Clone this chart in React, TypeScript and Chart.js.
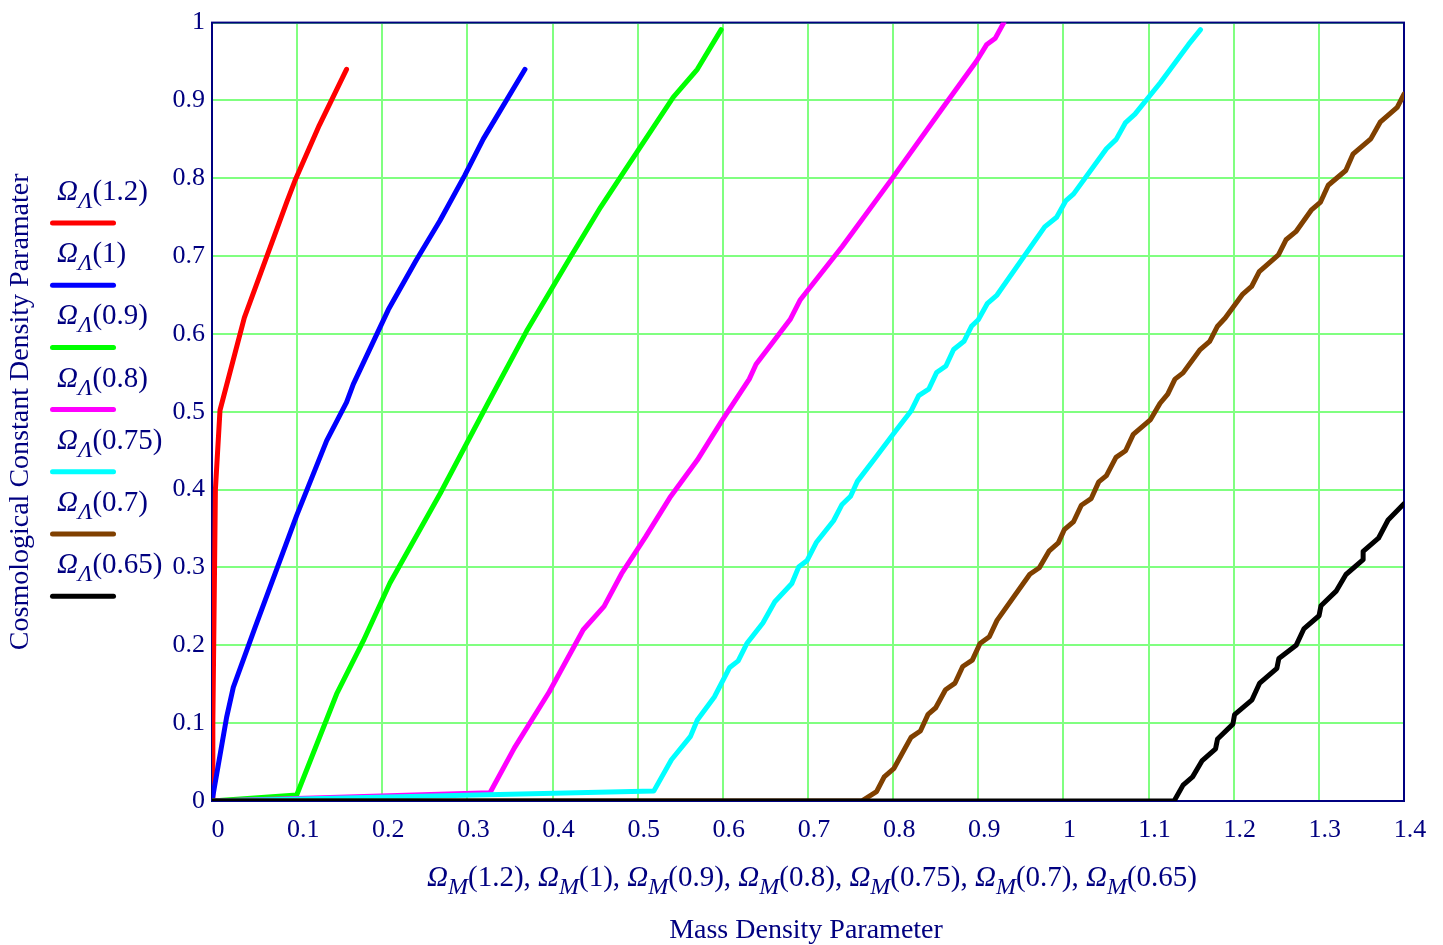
import React, { useEffect, useRef } from "react";
import { Chart, registerables } from "chart.js";

Chart.register(...registerables);

// Hubble-parameter labels of each curve
const seriesLabels = ["1.2", "1", "0.9", "0.8", "0.75", "0.7", "0.65"];
const seriesColors = ["#ff0000", "#0000ff", "#00ff00", "#ff00ff", "#00ffff", "#804000", "#000000"];

// Ω_M (x) and Ω_Λ (y) for each curve
const omegaM_12 = [0, 0.001, 0.002, 0.004, 0.0094, 0.038, 0.088, 0.0975, 0.126, 0.158];
const omegaL_12 = [0, 0.1, 0.2, 0.4, 0.502, 0.621, 0.77, 0.797, 0.868, 0.94];

const omegaM_10 = [0, 0.0172, 0.025, 0.0505, 0.0995, 0.1347, 0.158, 0.166, 0.207, 0.24, 0.268, 0.297, 0.3187, 0.3676];
const omegaL_10 = [0, 0.1077, 0.146, 0.2226, 0.367, 0.463, 0.512, 0.5355, 0.631, 0.695, 0.746, 0.804, 0.8506, 0.94];

const omegaM_09 = [0, 0.0995, 0.1464, 0.1777, 0.209, 0.268, 0.3245, 0.3695, 0.42, 0.4565, 0.4849, 0.5416, 0.57, 0.598];
const omegaL_09 = [0, 0.0077, 0.1375, 0.2056, 0.28, 0.395, 0.512, 0.6037, 0.697, 0.763, 0.81, 0.904, 0.94, 0.991];

const omegaM_08 = [0, 0.3265, 0.355, 0.396, 0.436, 0.4605, 0.481, 0.509, 0.5376, 0.57, 0.598, 0.631, 0.639, 0.679, 0.691, 0.74, 0.797, 0.853, 0.898, 0.91, 0.92, 0.93];
const omegaL_08 = [0, 0.0106, 0.068, 0.14, 0.22, 0.25, 0.292, 0.339, 0.3895, 0.438, 0.487, 0.542, 0.561, 0.6185, 0.644, 0.712, 0.797, 0.8825, 0.9506, 0.972, 0.98, 1.0];

const omegaM_075 = [0, 0.519, 0.5396, 0.562, 0.57, 0.59, 0.608, 0.618, 0.6286, 0.647, 0.661, 0.681, 0.689, 0.699, 0.7097, 0.73, 0.74, 0.75, 0.758, 0.7785, 0.8033, 0.821, 0.83, 0.8418, 0.851, 0.862, 0.871, 0.8832, 0.892, 0.9, 0.9108, 0.922, 0.978, 0.992, 1.003, 1.012, 1.0505, 1.062, 1.073, 1.084, 1.114, 1.147, 1.161];
const omegaL_075 = [0, 0.013, 0.053, 0.083, 0.104, 0.1336, 0.1716, 0.18, 0.203, 0.2287, 0.256, 0.2795, 0.3005, 0.309, 0.332, 0.36, 0.381, 0.3916, 0.4106, 0.44, 0.476, 0.501, 0.5207, 0.529, 0.5504, 0.5589, 0.58, 0.5906, 0.6098, 0.6183, 0.6394, 0.65, 0.7375, 0.75, 0.7714, 0.78, 0.838, 0.85, 0.8716, 0.8825, 0.923, 0.972, 0.991];

const omegaM_07 = [0, 0.763, 0.7805, 0.7895, 0.8007, 0.821, 0.832, 0.841, 0.85, 0.8615, 0.8727, 0.8817, 0.893, 0.902, 0.913, 0.922, 0.9605, 0.9717, 0.983, 0.994, 1.001, 1.012, 1.021, 1.0325, 1.0415, 1.0505, 1.0617, 1.073, 1.082, 1.1023, 1.1135, 1.1225, 1.131, 1.1405, 1.1606, 1.1718, 1.181, 1.19, 1.21, 1.221, 1.23, 1.2525, 1.2614, 1.273, 1.291, 1.302, 1.311, 1.3316, 1.34, 1.361, 1.372, 1.392, 1.4];
const omegaL_07 = [0, 0, 0.012, 0.031, 0.0415, 0.0817, 0.09, 0.1113, 0.1198, 0.143, 0.1515, 0.1728, 0.181, 0.2023, 0.211, 0.232, 0.2913, 0.2997, 0.321, 0.3316, 0.3485, 0.359, 0.38, 0.3884, 0.41, 0.418, 0.4415, 0.45, 0.471, 0.49, 0.511, 0.5227, 0.542, 0.55, 0.58, 0.5906, 0.61, 0.6205, 0.6504, 0.661, 0.68, 0.7016, 0.721, 0.7314, 0.759, 0.7695, 0.791, 0.81, 0.831, 0.8506, 0.872, 0.891, 0.908];

const omegaM_065 = [0, 1.13, 1.1405, 1.1517, 1.163, 1.1787, 1.181, 1.199, 1.201, 1.2215, 1.2305, 1.2507, 1.253, 1.2733, 1.2823, 1.3002, 1.3025, 1.3206, 1.3318, 1.352, 1.352, 1.37, 1.3813, 1.4];
const omegaL_065 = [0, 0, 0.0204, 0.031, 0.052, 0.067, 0.0797, 0.0987, 0.111, 0.13, 0.1515, 0.1705, 0.1831, 0.2, 0.221, 0.238, 0.2508, 0.27, 0.291, 0.31, 0.3207, 0.3376, 0.361, 0.382];

const seriesX = [omegaM_12, omegaM_10, omegaM_09, omegaM_08, omegaM_075, omegaM_07, omegaM_065];
const seriesY = [omegaL_12, omegaL_10, omegaL_09, omegaL_08, omegaL_075, omegaL_07, omegaL_065];

const yTitle = "Cosmological Constant Density Paramater";
const xTitle = "Mass Density Parameter";

const NAVY = "#000080";
const SERIF = "'Liberation Serif', 'Times New Roman', serif";
const F = 29;
const S = 24;
const T = 28;

function termWidth(ctx: CanvasRenderingContext2D, sub: string, val: string) {
  ctx.font = `italic ${F}px ${SERIF}`;
  let w = ctx.measureText("\u03A9").width;
  ctx.font = `italic ${S}px ${SERIF}`;
  w += ctx.measureText(sub).width;
  ctx.font = `${F}px ${SERIF}`;
  w += ctx.measureText(`(${val})`).width;
  return w;
}

function drawTerm(ctx: CanvasRenderingContext2D, x: number, base: number, sub: string, val: string) {
  ctx.font = `italic ${F}px ${SERIF}`;
  ctx.fillText("\u03A9", x, base);
  x += ctx.measureText("\u03A9").width;
  ctx.font = `italic ${S}px ${SERIF}`;
  ctx.fillText(sub, x, base + 8);
  x += ctx.measureText(sub).width;
  ctx.font = `${F}px ${SERIF}`;
  ctx.fillText(`(${val})`, x, base);
  x += ctx.measureText(`(${val})`).width;
  return x;
}

const decor = {
  id: "decor",
  beforeDatasetsDraw(chart: any) {
    const { ctx, chartArea } = chart;
    ctx.save();
    ctx.strokeStyle = NAVY;
    ctx.lineWidth = 2;
    ctx.strokeRect(chartArea.left, chartArea.top, chartArea.right - chartArea.left, chartArea.bottom - chartArea.top);
    ctx.restore();
  },
  afterDraw(chart: any) {
    const { ctx, chartArea } = chart;
    ctx.save();
    ctx.fillStyle = NAVY;
    ctx.textBaseline = "alphabetic";
    ctx.textAlign = "left";
    // legend
    seriesLabels.forEach((lab, i) => {
      const lineY = 223 + i * 62.2;
      drawTerm(ctx, 57, lineY - 23, "\u039B", lab);
      ctx.strokeStyle = seriesColors[i];
      ctx.lineWidth = 5;
      ctx.lineCap = "round";
      ctx.beginPath();
      ctx.moveTo(52.5, lineY);
      ctx.lineTo(113.5, lineY);
      ctx.stroke();
    });
    // x composite label
    const sep = ", ";
    ctx.font = `${F}px ${SERIF}`;
    const sepW = ctx.measureText(sep).width;
    let total = 0;
    seriesLabels.forEach((lab, i) => {
      total += termWidth(ctx, "M", lab);
      if (i < seriesLabels.length - 1) total += sepW;
    });
    const cx = (chartArea.left + chartArea.right) / 2 + 4;
    let x = cx - total / 2;
    seriesLabels.forEach((lab, i) => {
      x = drawTerm(ctx, x, 886, "M", lab);
      if (i < seriesLabels.length - 1) {
        ctx.font = `${F}px ${SERIF}`;
        ctx.fillText(sep, x, 886);
        x += sepW;
      }
    });
    // x title
    ctx.font = `${T}px ${SERIF}`;
    ctx.textAlign = "center";
    ctx.fillText(xTitle, (chartArea.left + chartArea.right) / 2 - 2, 938);
    // y title
    ctx.translate(28, (chartArea.top + chartArea.bottom) / 2);
    ctx.rotate(-Math.PI / 2);
    ctx.fillText(yTitle, 0, 0);
    ctx.restore();
  },
};

const fmt = (v: any) => String(Math.round(Number(v) * 10) / 10);

export default function App() {
  const ref = useRef<HTMLCanvasElement>(null);
  useEffect(() => {
    if (!ref.current) return;
    const datasets = seriesLabels.map((lab, i) => ({
      label: lab,
      data: seriesX[i].map((xv, j) => ({ x: xv, y: seriesY[i][j] })),
      showLine: true,
      borderColor: seriesColors[i],
      backgroundColor: seriesColors[i],
      borderWidth: 5,
      pointRadius: 0,
      borderCapStyle: "round" as const,
      borderJoinStyle: "round" as const,
      fill: false,
      tension: 0,
      order: seriesLabels.length - 1 - i,
    }));
    const tickFont = { family: SERIF, size: 26 };
    const chart = new Chart(ref.current, {
      type: "scatter",
      data: { datasets },
      options: {
        animation: false,
        responsive: true,
        maintainAspectRatio: false,
        events: [],
        layout: { padding: { left: 0, top: 18, right: 39, bottom: 0 } },
        plugins: { legend: { display: false }, tooltip: { enabled: false }, title: { display: false } },
        scales: {
          x: {
            type: "linear",
            min: 0,
            max: 1.4,
            ticks: { stepSize: 0.1, color: NAVY, font: tickFont, padding: 14, labelOffset: 6, maxRotation: 0, autoSkip: false, callback: fmt },
            grid: { color: "#80ff80", lineWidth: 2, drawTicks: false },
            border: { display: false },
            afterFit: (s: any) => { s.height = 144; },
          },
          y: {
            type: "linear",
            min: 0,
            max: 1,
            ticks: { stepSize: 0.1, color: NAVY, font: tickFont, padding: 7, autoSkip: false, callback: fmt },
            grid: { color: "#80ff80", lineWidth: 2, drawTicks: false },
            border: { display: false },
            afterFit: (s: any) => { s.width = 212; },
          },
        },
      },
      plugins: [decor],
    } as any);
    return () => chart.destroy();
  }, []);
  return (
    <div style={{ position: "fixed", left: 0, top: 0, width: 1443, height: 945, background: "#fff" }}>
      <canvas ref={ref} />
    </div>
  );
}
